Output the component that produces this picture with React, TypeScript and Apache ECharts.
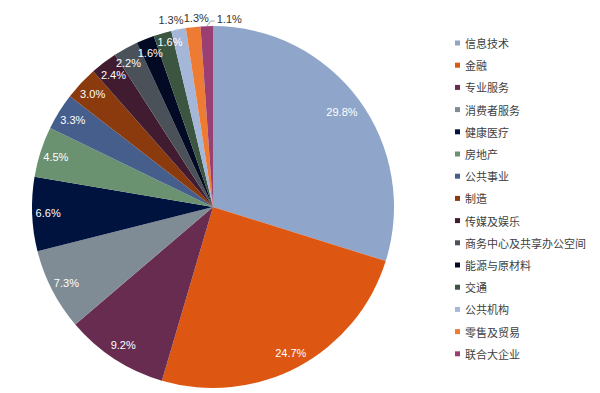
import React, { useEffect, useRef } from "react";
import * as echarts from "echarts";

const categories = [
  "信息技术",
  "金融",
  "专业服务",
  "消费者服务",
  "健康医疗",
  "房地产",
  "公共事业",
  "制造",
  "传媒及娱乐",
  "商务中心及共享办公空间",
  "能源与原材料",
  "交通",
  "公共机构",
  "零售及贸易",
  "联合大企业",
];

const values = [29.8, 24.7, 9.2, 7.3, 6.6, 4.5, 3.3, 3.0, 2.4, 2.2, 1.6, 1.6, 1.3, 1.3, 1.1];

const palette = [
  "#8FA5CA",
  "#DE5712",
  "#682C50",
  "#7F8C95",
  "#00133F",
  "#6A9270",
  "#465E8C",
  "#8A3A0D",
  "#411C30",
  "#4A5159",
  "#020A24",
  "#3B5540",
  "#A5B7D8",
  "#EE7B34",
  "#9A3F72",
];

const outsideNoLine = [12, 13];
const outsideWithLine = [14];

const LABEL_FONT = "Liberation Sans, Arial, sans-serif";
const CJK_FONT = "'Noto Sans CJK SC', sans-serif";

export default function App() {
  const ref = useRef<HTMLDivElement>(null);

  useEffect(() => {
    document.body.style.margin = "0";
    if (!ref.current) return;
    const chart = echarts.init(ref.current, undefined, { renderer: "svg" });
    const cx = 213;
    const cy = 207;
    const R = 181;
    const fmt = (p: any) => Number(p.value).toFixed(1) + "%";

    // mid angles (radians, clockwise from 12 o'clock) derived from the data
    const total = values.reduce((a, b) => a + b, 0);
    const mids: number[] = [];
    let acc = 0;
    values.forEach((v) => {
      mids.push(((acc + v / 2) / total) * Math.PI * 2);
      acc += v;
    });

    const offsets: Record<number, number[]> = {
      0: [-4, 3],
      9: [-5, 1],
      10: [-1, -1],
      11: [3, -7],
      12: [-6, -1],
      13: [4, -1],
    };

    const mainData = categories.map((name, i) => {
      const withLine = outsideWithLine.includes(i);
      const outer = outsideNoLine.includes(i) || withLine;
      return {
        name,
        value: values[i],
        itemStyle: { color: palette[i] },
        label: {
          show: true,
          position: withLine ? "outside" : "inside",
          color: outer ? "#333333" : "#ffffff",
        },
        labelLine: withLine
          ? { show: true, length: 6, length2: 6, lineStyle: { color: "#A6A6A6", width: 1 } }
          : { show: false },
      };
    });

    chart.setOption({
      animation: false,
      backgroundColor: "#ffffff",
      legend: {
        orient: "vertical",
        left: 450,
        top: 31,
        data: categories,
        icon: "rect",
        itemWidth: 5,
        itemHeight: 5,
        itemGap: 8.2,
        itemTextGap: 3,
        selectedMode: false,
        textStyle: {
          color: "#404040",
          fontSize: 11,
          lineHeight: 14,
          fontFamily: CJK_FONT,
        },
      },
      series: [
        {
          type: "pie",
          name: "main",
          center: [cx, cy],
          radius: [0, R],
          startAngle: 90,
          clockwise: true,
          silent: true,
          avoidLabelOverlap: false,
          itemStyle: { borderWidth: 0 },
          emphasis: { disabled: true },
          label: {
            fontSize: 11,
            fontFamily: LABEL_FONT,
            formatter: fmt,
          },
          data: mainData,
          labelLayout: (p: any) => {
            const i = p.dataIndex;
            if (outsideWithLine.includes(i)) {
              if (!p.labelLinePoints) return {};
              const p0 = p.labelLinePoints[0];
              const p1 = [p0[0] + 4, p0[1] - 5];
              const p2 = [p1[0] + 4, p1[1]];
              return {
                x: p2[0] + 2,
                y: p2[1] - 2,
                align: "left",
                verticalAlign: "middle",
                labelLinePoints: [p0, p1, p2],
              };
            }
            const a = mids[i];
            const r = outsideNoLine.includes(i) ? 189 : 165;
            const off = offsets[i] || [0, 0];
            return {
              x: cx + r * Math.sin(a) + off[0],
              y: cy - r * Math.cos(a) + off[1],
              align: "center",
              verticalAlign: "middle",
            };
          },
        },
      ],
    });

    return () => chart.dispose();
  }, []);

  return <div ref={ref} style={{ width: 600, height: 393 }} />;
}
